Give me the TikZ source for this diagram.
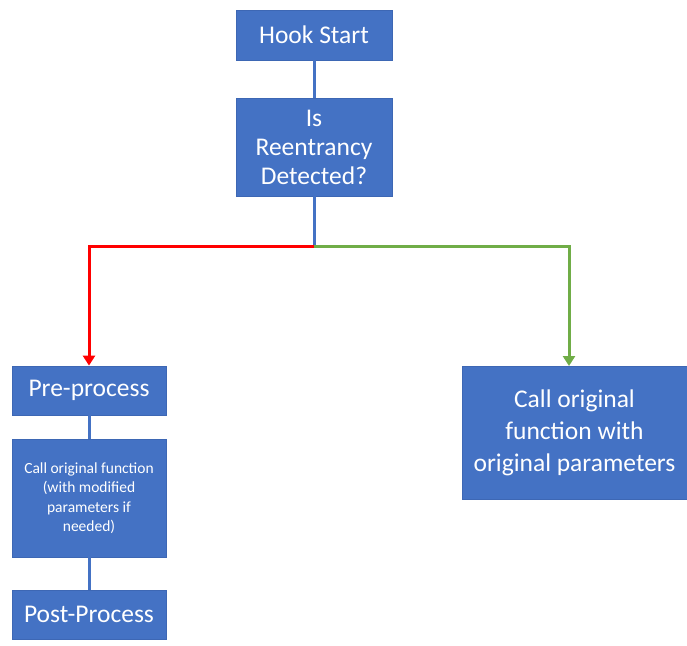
\documentclass[tikz,border=0pt]{standalone}
\usepackage{fontspec}
\setmainfont{Carlito}
\usetikzlibrary{arrows.meta}
\definecolor{boxblue}{HTML}{4472C4}
\definecolor{boxedge}{HTML}{3D67B4}
\definecolor{linered}{HTML}{FF0000}
\definecolor{linegreen}{HTML}{70AD47}
\tikzset{
  box/.style={fill=boxblue, draw=boxedge, line width=0.8pt, text=white, inner sep=0pt, align=center,
    font=\fontsize{25.5}{29}\selectfont},
  conn/.style={draw=boxblue, line width=3pt},
  redarr/.style={draw=linered, line width=3pt, -{Triangle[width=12pt,length=10pt]}},
  greenarr/.style={draw=linegreen, line width=3pt, -{Triangle[width=12pt,length=10pt]}},
}
\begin{document}
\begin{tikzpicture}[x=1pt,y=-1pt]
\useasboundingbox (0,0) rectangle (687,645);
\node[box, minimum width=156pt, minimum height=50pt] (hook) at (314,35) {Hook Start};
\node[box, minimum width=156pt, minimum height=98pt] (reent) at (314,147) {Is\\Reentrancy\\Detected?};
\node[box, minimum width=154pt, minimum height=49pt] (pre) at (89,390.5) {Pre-process};
\node[box, minimum width=154pt, minimum height=118pt, font=\fontsize{15.5}{19.5}\selectfont] (call) at (89,498) {Call original function\\(with modified\\parameters if\\needed)};
\node[box, minimum width=154pt, minimum height=49pt] (post) at (89,614.5) {Post-Process};
\node[box, minimum width=225pt, minimum height=133pt, font=\fontsize{25.5}{32}\selectfont] (right) at (574.5,432.5) {Call original\\function with\\original parameters};
\coordinate (j) at (314,246);
\coordinate (rn) at (569,366);
\draw[conn] (hook) -- (reent);
\draw[conn] (reent.south) -- (j);
\draw[conn] (pre) -- (call);
\draw[conn] (call) -- (post);
\draw[redarr] (j) -| (pre.north);
\draw[greenarr] (j) -| (rn);
\end{tikzpicture}
\end{document}
